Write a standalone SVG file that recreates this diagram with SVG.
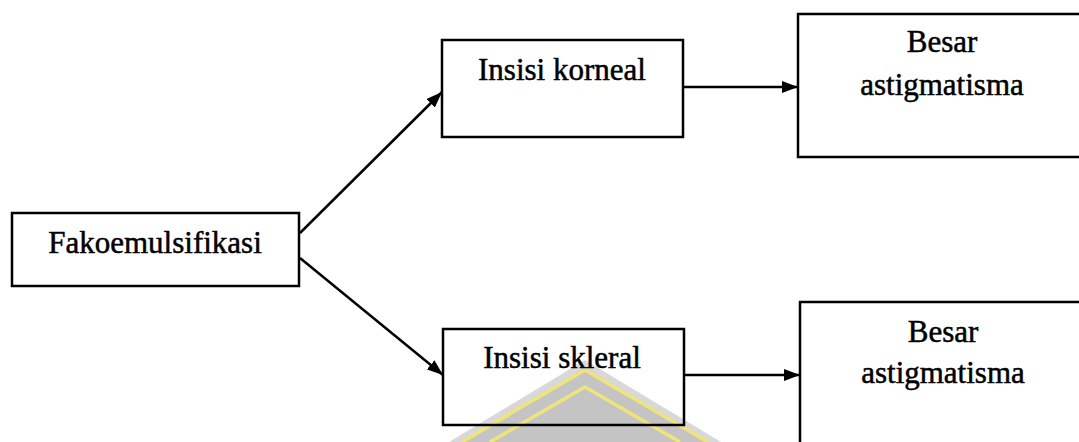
<svg xmlns="http://www.w3.org/2000/svg" width="1079" height="442" viewBox="0 0 1079 442">
  <style>
    .box { fill: none; stroke: #000; stroke-width: 2.5; }
    .lbl { font-family: "Liberation Serif", "Times New Roman", serif; font-size: 31px; fill: #000; stroke: #000; stroke-width: 0.5; text-anchor: middle; }
    .edge { fill: none; stroke: #000; stroke-width: 2.5; }
  </style>
  <defs>
    <marker id="arrow" viewBox="0 0 16 12" refX="16" refY="6" markerWidth="16" markerHeight="12" markerUnits="userSpaceOnUse" orient="auto">
      <path d="M0,0 L16,6 L0,12 Z" fill="#000"/>
    </marker>
  </defs>

  <rect width="1079" height="442" fill="#fff"/>

  <!-- faint emblem in the lower middle -->
  <g id="emblem">
    <polygon points="585,360 449,442 721,442" fill="#d8d8d8"/>
    <polygon points="585,368 462,442 708,442" fill="#c4c4c4"/>
    <polyline points="462,442 585,370 708,442" fill="none" stroke="#efe47a" stroke-width="3.5"/>
    <polyline points="490,442 585,387 680,442" fill="none" stroke="#efe47a" stroke-width="3.5"/>
  </g>

  <g id="connectors">
    <line class="edge" x1="300" y1="233" x2="442" y2="92" marker-end="url(#arrow)"/>
    <line class="edge" x1="300" y1="258" x2="443" y2="375" marker-end="url(#arrow)"/>
    <line class="edge" x1="683" y1="87" x2="798" y2="87" marker-end="url(#arrow)"/>
    <line class="edge" x1="684" y1="375" x2="800" y2="375" marker-end="url(#arrow)"/>
  </g>

  <g id="fakoemulsifikasi">
    <rect class="box" x="12" y="213" width="287" height="73"/>
    <text class="lbl" x="155" y="253">Fakoemulsifikasi</text>
  </g>

  <g id="insisi-korneal">
    <rect class="box" x="442" y="40" width="241" height="97"/>
    <text class="lbl" x="562" y="80">Insisi korneal</text>
  </g>

  <g id="insisi-skleral">
    <rect class="box" x="443" y="329" width="241" height="96"/>
    <text class="lbl" x="562" y="368">Insisi skleral</text>
  </g>

  <g id="astigmatisma-korneal">
    <rect class="box" x="798" y="14" width="300" height="143"/>
    <text class="lbl" x="942" y="52">Besar</text>
    <text class="lbl" x="942" y="95">astigmatisma</text>
  </g>

  <g id="astigmatisma-skleral">
    <rect class="box" x="800" y="302" width="300" height="160"/>
    <text class="lbl" x="943" y="342">Besar</text>
    <text class="lbl" x="943" y="383">astigmatisma</text>
  </g>
</svg>
